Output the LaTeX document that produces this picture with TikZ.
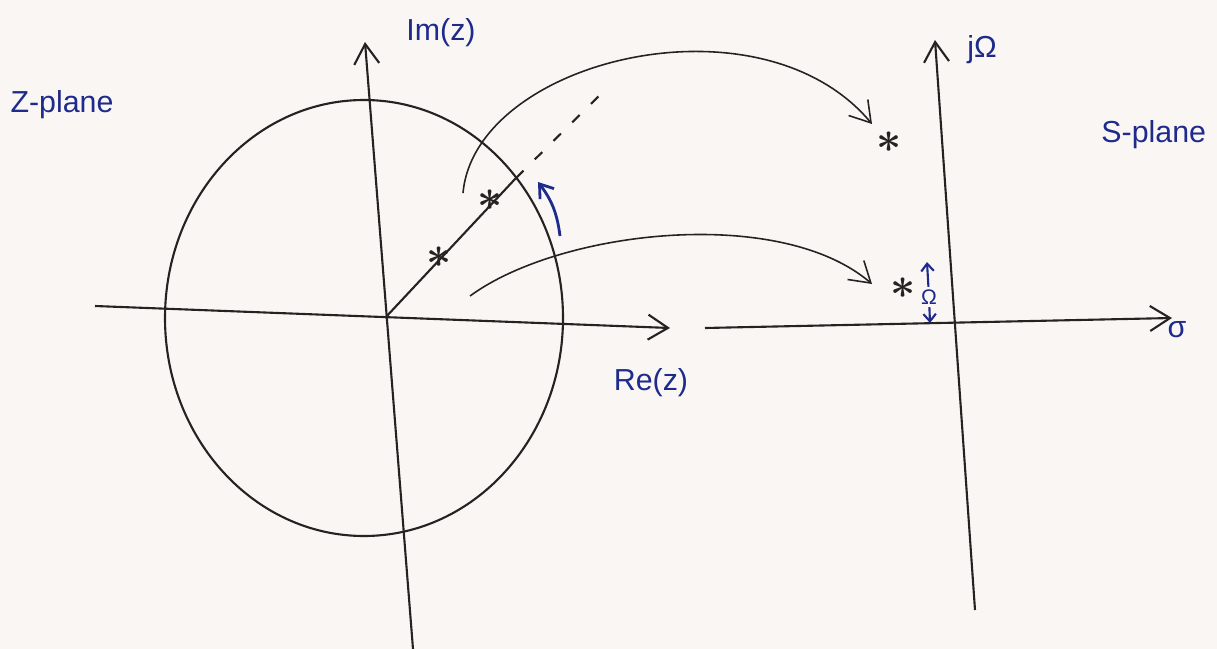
\documentclass[tikz,border=0pt]{standalone}
\usepackage{fontspec}
\setmainfont{Liberation Sans}
\usetikzlibrary{arrows.meta}
\definecolor{ink}{HTML}{1E2A8C}
\definecolor{pencil}{HTML}{262222}
\definecolor{paper}{HTML}{FAF6F4}
\begin{document}
\begin{tikzpicture}[x=0.02cm, y=-0.02cm, line width=1.2pt, draw=pencil,
  >={Straight Barb[length=4mm, width=5mm]},
  lbl/.style={text=ink, font=\LARGE},
  pole/.style={font=\fontsize{30}{30}\selectfont\boldmath, text=pencil, inner sep=0pt}]
\fill[paper] (0,0) rectangle (1217,649);
\useasboundingbox (0,0) rectangle (1217,649);

% z-plane
\coordinate (zo) at (385,318);
\coordinate (zl) at (95,306);
\coordinate (zr) at (670,328);
\coordinate (zb) at (413,649);
\coordinate (zt) at (365,42);
\draw[->] (zl) -- (zr);
\draw[->] (zb) -- (zt);
\draw (364,318) ellipse [x radius=199, y radius=218];

\node[pole] (p1) at (439,257) {$\ast$};
\node[pole] (p2) at (490,200) {$\ast$};
\coordinate (rim) at (516,178);
\coordinate (far) at (607,88);
\draw (zo) -- (rim);
\draw[dashed, dash pattern=on 6pt off 9pt] (rim) -- (far);
\coordinate (w1) at (560,236);
\coordinate (w2) at (538,182);
\draw[ink, line width=1.6pt, -{Straight Barb[length=2.5mm, width=3.5mm]}] (w1) to[bend right=15] (w2);

\node[lbl] (zp) at (62,105) {Z-plane};
\node[lbl] (im) at (441,33) {Im(z)};
\node[lbl] (re) at (651,383) {Re(z)};

% s-plane
\coordinate (sl) at (705,328);
\coordinate (sr) at (1172,318);
\coordinate (sb) at (975,610);
\coordinate (st) at (935,40);
\draw[->] (sl) -- (sr);
\draw[->] (sb) -- (st);

\node[pole] (q1) at (889,142) {$\ast$};
\node[pole] (q2) at (903,288) {$\ast$};
\node[lbl, font=\large, inner sep=1pt] (om) at (929,297) {Ω};
\coordinate (omt) at (927,262);
\coordinate (omb) at (930,323);
\draw[ink, line width=1.2pt, -{Straight Barb[length=1.5mm, width=2.5mm]}] (om) -- (omt);
\draw[ink, line width=1.2pt, -{Straight Barb[length=1.5mm, width=2.5mm]}] (om) -- (omb);

\node[lbl] (jw) at (982,50) {jΩ};
\node[lbl, anchor=east] (sp) at (1213,135) {S-plane};
\node[lbl] (sg) at (1177,330) {σ};

% mapping arcs
\coordinate (a1) at (463,193);
\coordinate (b1) at (872,124);
\coordinate (a2) at (470,296);
\coordinate (b2) at (872,284);
\draw[line width=0.9pt, ->] (a1) .. controls (475,60) and (760,-10) .. (b1);
\draw[line width=0.9pt, ->] (a2) .. controls (560,230) and (780,205) .. (b2);
\end{tikzpicture}
\end{document}
